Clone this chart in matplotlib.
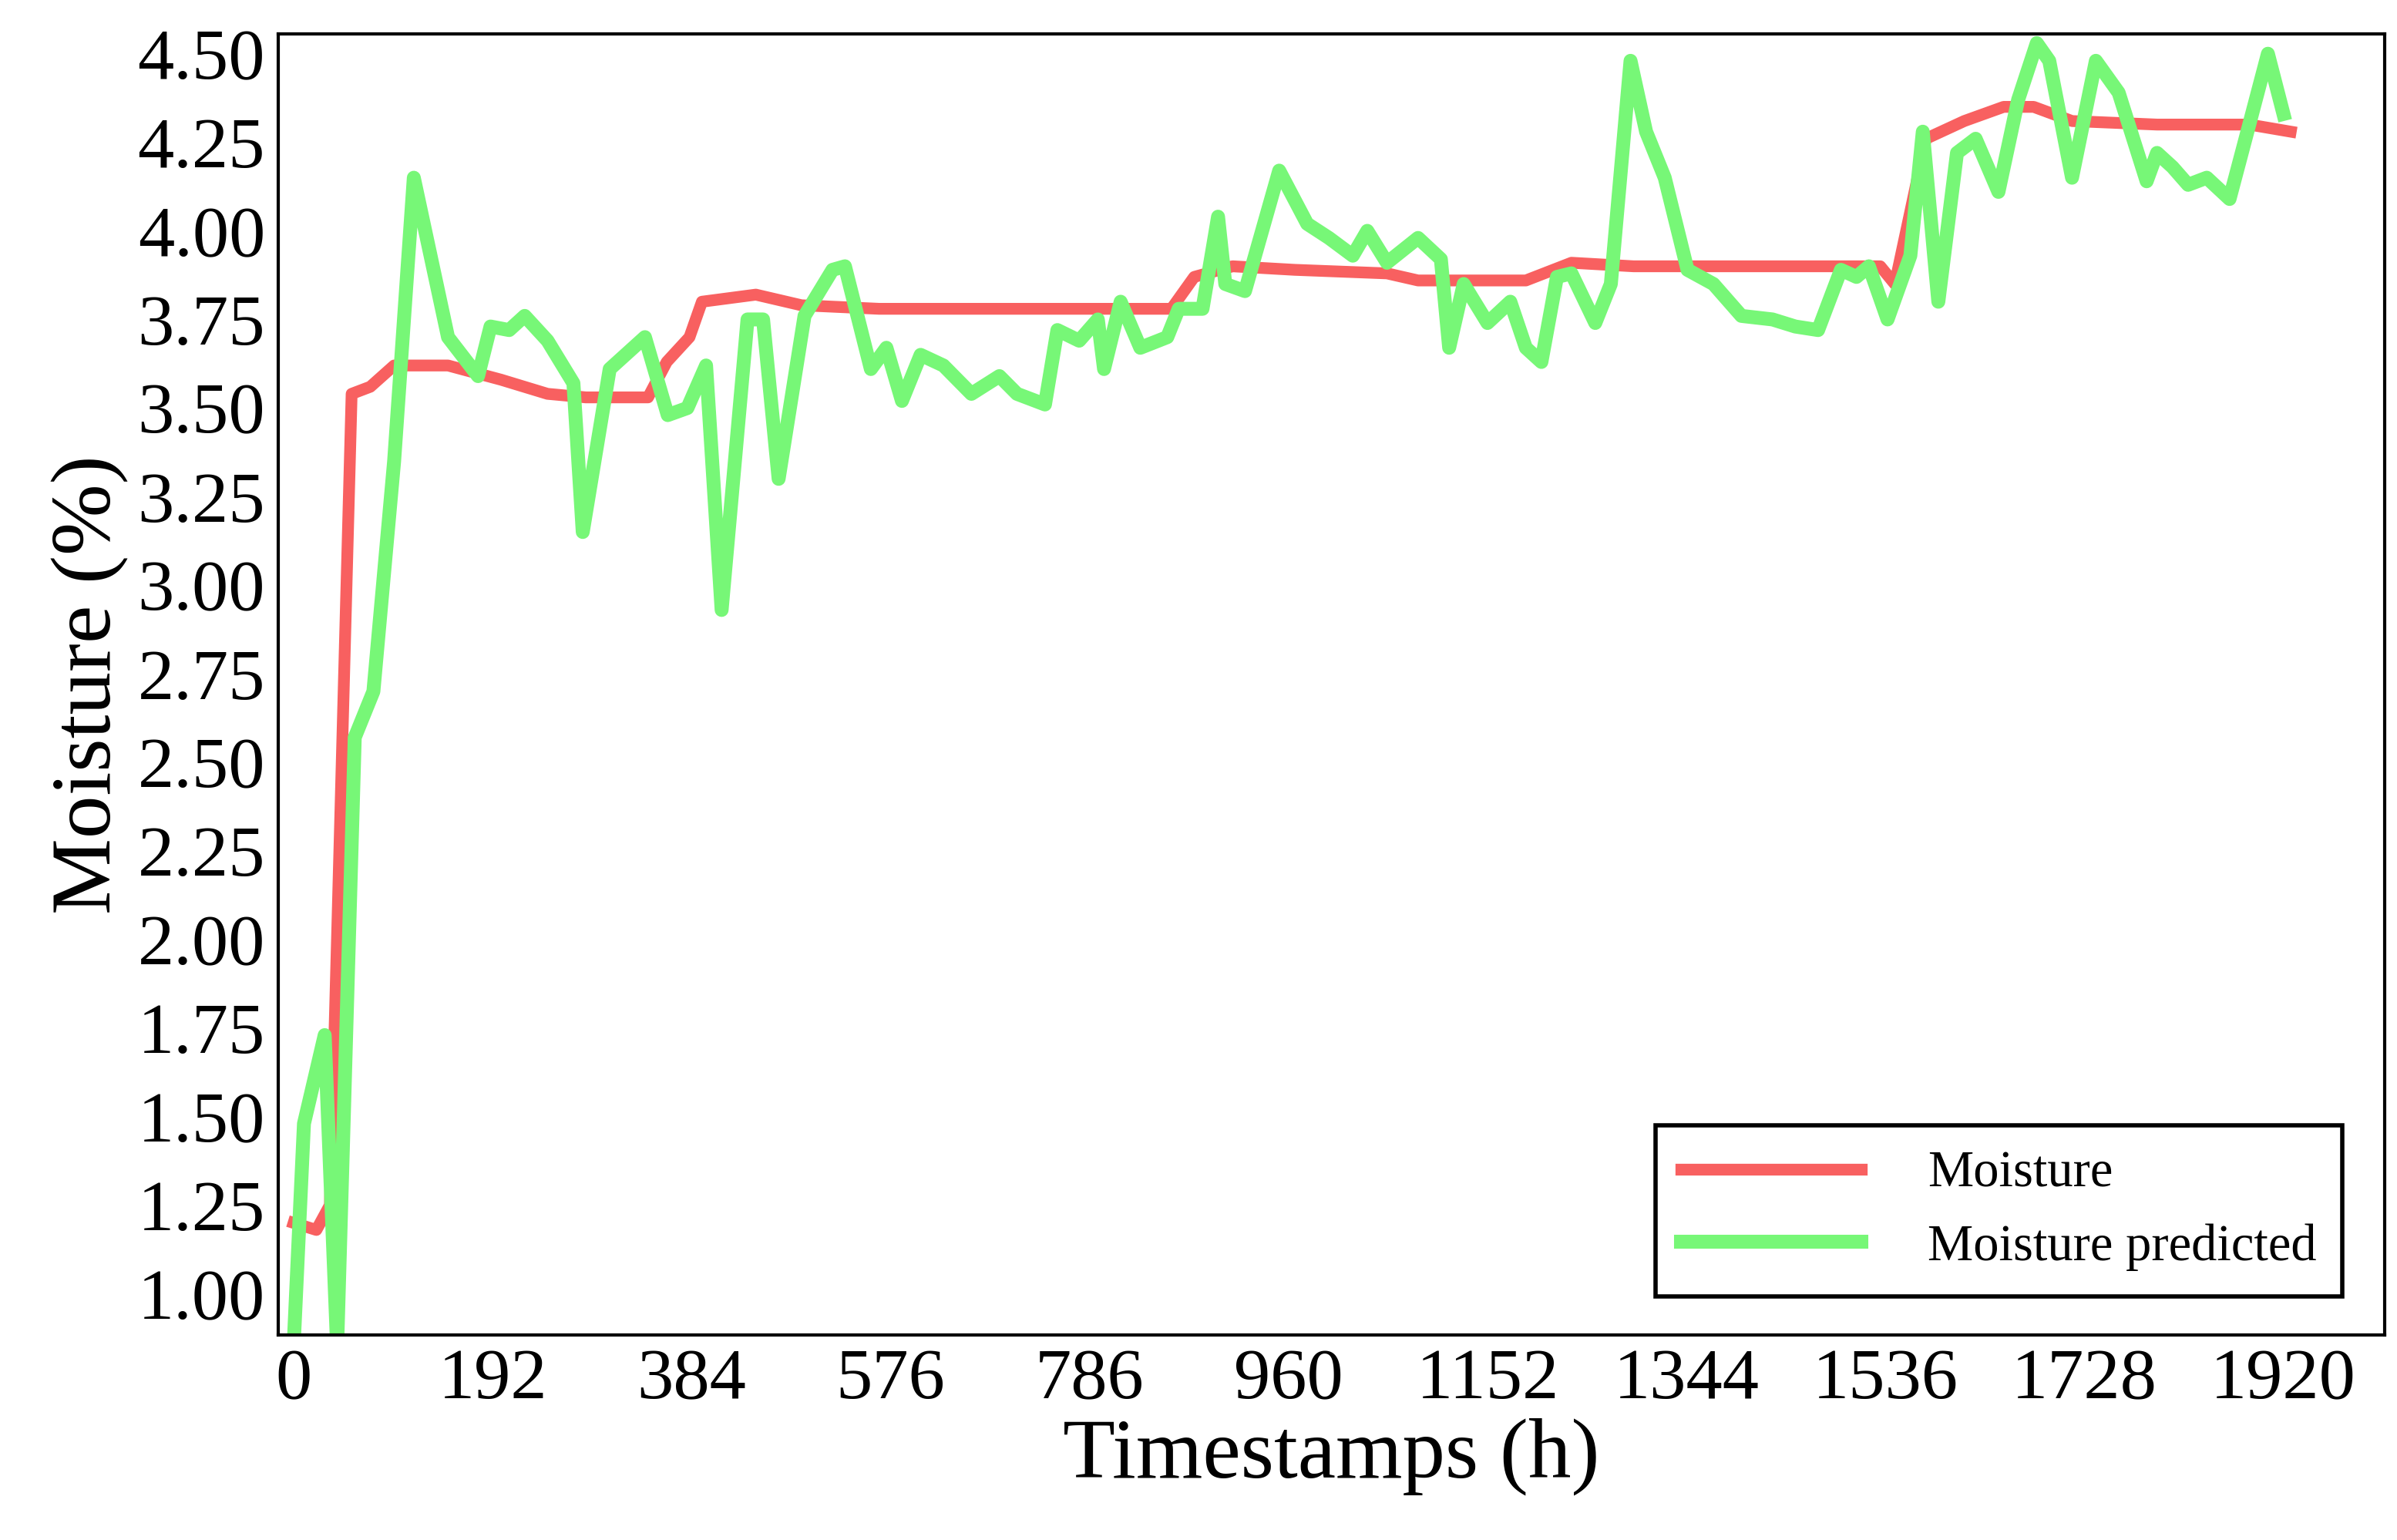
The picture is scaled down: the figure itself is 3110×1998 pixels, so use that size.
import matplotlib.pyplot as plt

# measured series (hours, moisture %)
red_x = [0, 22, 35, 56, 74, 97, 149, 200, 245, 282, 342, 360, 382, 394, 446, 490, 565, 847, 869, 906, 966,
         1055, 1085, 1144, 1189, 1233, 1293, 1323, 1531, 1545, 1575, 1612, 1650, 1679, 1716, 1798, 1887, 1927]
red_y = [1.20, 1.18, 1.25, 3.54, 3.56, 3.62, 3.62, 3.58, 3.54, 3.53, 3.53, 3.63, 3.70, 3.80, 3.82, 3.79, 3.78,
         3.78, 3.87, 3.90, 3.89, 3.88, 3.86, 3.86, 3.86, 3.91, 3.90, 3.90, 3.90, 3.85, 4.26, 4.31, 4.35, 4.35,
         4.31, 4.30, 4.30, 4.28]

green_x = [0, 10, 30, 42, 59, 77, 97, 116, 149, 178, 190, 208, 223, 245, 270, 279, 305, 339, 361, 380, 398,
           413, 438, 453, 468, 493, 520, 532, 557, 572, 587, 605, 627, 654, 681, 698, 725, 737, 758, 776, 782,
           798, 817, 843, 854, 877, 892, 899, 918, 951, 978, 999, 1022, 1036, 1055, 1085, 1107, 1115, 1129,
           1152, 1174, 1189, 1204, 1219, 1233, 1256, 1271, 1290, 1305, 1323, 1345, 1370, 1397, 1427, 1449,
           1471, 1493, 1508, 1520, 1538, 1560, 1572, 1587, 1605, 1623, 1645, 1664, 1682, 1694, 1716, 1739,
           1761, 1788, 1798, 1813, 1828, 1846, 1868, 1887, 1905, 1920]
green_y = [0.85, 1.48, 1.73, 0.85, 2.57, 2.70, 3.35, 4.15, 3.70, 3.59, 3.73, 3.72, 3.76, 3.69, 3.57, 3.15,
           3.61, 3.70, 3.48, 3.50, 3.62, 2.93, 3.75, 3.75, 3.30, 3.76, 3.89, 3.90, 3.61, 3.67, 3.52, 3.65,
           3.62, 3.54, 3.59, 3.54, 3.51, 3.72, 3.69, 3.75, 3.61, 3.80, 3.67, 3.70, 3.78, 3.78, 4.04, 3.85,
           3.83, 4.17, 4.02, 3.98, 3.93, 4.00, 3.91, 3.98, 3.92, 3.67, 3.85, 3.74, 3.80, 3.67, 3.63, 3.87,
           3.88, 3.74, 3.85, 4.48, 4.28, 4.15, 3.89, 3.85, 3.76, 3.75, 3.73, 3.72, 3.89, 3.87, 3.90, 3.75,
           3.93, 4.28, 3.80, 4.22, 4.26, 4.11, 4.37, 4.53, 4.48, 4.15, 4.48, 4.39, 4.14, 4.22, 4.18, 4.13,
           4.15, 4.09, 4.30, 4.50, 4.33]

x_ticks = [0, 192, 384, 576, 768, 960, 1152, 1344, 1536, 1728, 1920]
x_labels = ['0', '192', '384', '576', '786', '960', '1152', '1344', '1536', '1728', '1920']
y_ticks = [1.00, 1.25, 1.50, 1.75, 2.00, 2.25, 2.50, 2.75, 3.00, 3.25, 3.50, 3.75, 4.00, 4.25, 4.50]

plt.rcParams['font.family'] = ['Liberation Serif', 'DejaVu Serif']

fig = plt.figure(figsize=(15.55, 9.99), dpi=200)
ax = fig.add_axes([0.116, 0.133, 0.879, 0.845])

ax.plot(red_x, red_y, color='#f86060', lw=5.5, label='Moisture', solid_joinstyle='round')
ax.plot(green_x, green_y, color='#77f777', lw=6.5, label='Moisture predicted', solid_joinstyle='round')

ax.set_xlim(-15, 2018)
ax.set_ylim(0.883, 4.556)
ax.set_xticks(x_ticks)
ax.set_xticklabels(x_labels)
ax.set_yticks(y_ticks)
ax.set_yticklabels([f'{v:.2f}' for v in y_ticks])
ax.tick_params(length=0, labelsize=34, pad=6)
ax.set_xlabel('Timestamps (h)', fontsize=40, labelpad=2)
ax.set_ylabel('Moisture (%)', fontsize=40, labelpad=4)
for s in ax.spines.values():
    s.set_linewidth(1.5)

leg = ax.legend(loc='lower right', fontsize=24, fancybox=False, edgecolor='black', framealpha=1,
                handlelength=3.5, handletextpad=1.3, borderpad=0.5, labelspacing=0.5,
                bbox_to_anchor=(0.992, 0.01))
leg.get_frame().set_linewidth(2)

fig.savefig('out.png')
